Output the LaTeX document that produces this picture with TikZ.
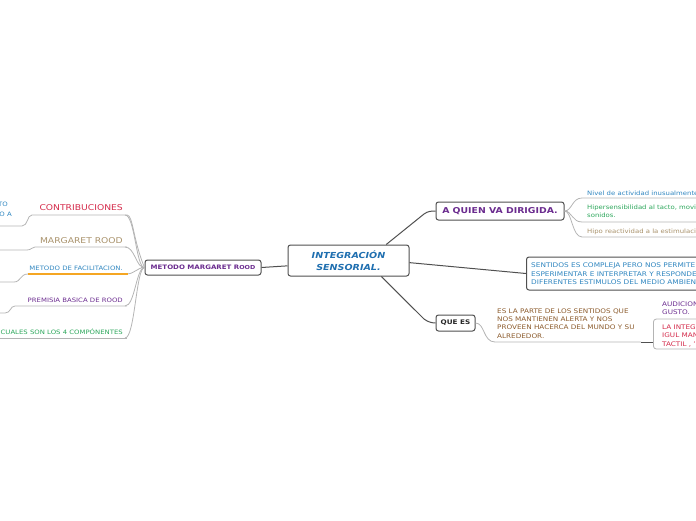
\documentclass[tikz,border=0pt]{standalone}
\usepackage{fontspec}
\setmainfont{DejaVu Sans}[FakeStretch=1.15]
\definecolor{cblue}{HTML}{1F6FB0}
\definecolor{cpurple}{HTML}{6B2C8F}
\definecolor{sblue}{HTML}{2F86C0}
\definecolor{cgreen}{HTML}{2BA65A}
\definecolor{ctan}{HTML}{A8916A}
\definecolor{cred}{HTML}{D42A4A}
\definecolor{cbrown}{HTML}{8B5A2B}
\definecolor{corange}{HTML}{F5A623}
\definecolor{lgray}{HTML}{B4B4B4}
\definecolor{dgray}{HTML}{505050}
\tikzset{
  topic/.style={draw=dgray, line width=1pt, rounded corners=2.5pt, fill=white, inner sep=0pt},
  subbox/.style={draw=lgray, line width=0.8pt, rounded corners=3pt, fill=white, inner sep=0pt},
  small/.style={font=\fontsize{6}{8.5}\selectfont, inner sep=0pt, align=left},
  big/.style={font=\fontsize{8}{10}\selectfont, inner sep=0pt},
  thinline/.style={draw=lgray, line width=0.8pt},
  thickline/.style={draw=dgray, line width=1pt},
}
\begin{document}
\begin{tikzpicture}[x=1pt,y=-1pt]
\useasboundingbox (0,0) rectangle (696,520);
\clip (0,0) rectangle (696,520);

% central topic
\node[topic, minimum width=121pt, minimum height=31pt, align=center, text=cblue,
      font=\bfseries\itshape\fontsize{8.3}{11.5}\selectfont] (c) at (348.5,260.5) {INTEGRACIÓN\\SENSORIAL.};

% main topics
\node[topic, minimum width=116pt, minimum height=15pt, text=cpurple,
      font=\bfseries\fontsize{6.1}{7}\selectfont] (m) at (203,267.5) {METODO MARGARET R{\fontsize{5.5}{6}\selectfont OOD}};
\node[topic, minimum width=128pt, minimum height=18pt, text=cpurple,
      font=\bfseries\fontsize{8.1}{9}\selectfont] (q) at (500,211) {A QUIEN VA DIRIGIDA.};
\node[topic, minimum width=39pt, minimum height=16pt, text=black!85,
      font=\bfseries\fontsize{6.3}{7}\selectfont] (qe) at (455.5,323) {QUE ES};
\node[topic, minimum width=200pt, minimum height=33pt, anchor=west] (s) at (526,273.5) {};
\node[small, text=sblue, anchor=north west, font=\fontsize{6.4}{8.5}\selectfont] (st) at (531,262.8)
  {SENTIDOS ES COMPLEJA PERO NOS PERMITE\\ESPERIMENTAR E INTERPRETAR Y RESPONDER A\\DIFERENTES ESTIMULOS DEL MEDIO AMBIENTE};

% thick connectors
\draw[thickline] (c.185) -- (m.east);
\draw[thickline] (c.23) -- (424,214) .. controls (428,211) and (432,211) .. (q.west);
\draw[thickline] (c.-2) -- (s.west);
\draw[thickline] (c.-26) -- (424,319) .. controls (428,322) and (432,323) .. (qe.west);

% right: A QUIEN VA DIRIGIDA children
\coordinate (r1) at (700,198);
\coordinate (r2) at (700,222);
\coordinate (r3) at (700,237);
\draw[thinline] (q.east) .. controls (572,211) and (572,198) .. (582,198) -- (r1);
\draw[thinline] (q.east) .. controls (572,211) and (572,222) .. (582,222) -- (r2);
\draw[thinline] (q.east) .. controls (572,211) and (572,237) .. (582,237) -- (r3);
\node[small, text=sblue, anchor=base west] (n1) at (587,195) {Nivel de actividad inusualmente};
\node[small, text=cgreen, anchor=base west] (n2) at (587,209) {Hipersensibilidad al tacto, movimientos,};
\node[small, text=cgreen, anchor=base west] (n2b) at (587,217.3) {sonidos.};
\node[small, text=ctan, anchor=base west] (n3) at (587,233.3) {Hipo reactividad a la estimulación};

% QUE ES children
\node[small, text=cbrown, anchor=north west, font=\fontsize{6.3}{8.4}\selectfont] (qt) at (497,308.2)
  {ES LA PARTE DE LOS SENTIDOS QUE\\NOS MANTIENEN ALERTA Y NOS\\PROVEEN HACERCA DEL MUNDO Y SU\\ALREDEDOR.};
\node[subbox, minimum width=100pt, minimum height=30pt, anchor=west] (li) at (653,334) {};
\node[small, text=cred, anchor=north west, font=\fontsize{6.3}{8.5}\selectfont] (lit) at (662,324.2)
  {LA INTEGRACION\\IGUL MANERA\\TACTIL , '};
\node[small, text=cpurple, anchor=north west, font=\fontsize{6.3}{8.4}\selectfont] (au) at (662,301.6) {AUDICION\\GUSTO.};
\coordinate (qj) at (641,342);
\draw[thinline] (qe.east) .. controls (485,323) and (483,342) .. (495,342) -- (qj);
\draw[thickline] (qj) -- (li.west |- qj);

% left: METODO MARGARET ROOD children
\coordinate (l1) at (127,215);
\coordinate (l2) at (127,247);
\coordinate (l3) at (128,274);
\coordinate (l4) at (127,306);
\coordinate (l5) at (127,338);
\foreach \p in {l1,l2,l3,l4,l5}{
  \draw[thinline] (m.west) .. controls (136,268) and (135,0|-\p) .. ([xshift=-2pt]\p) ;
  \draw[thinline] (m.west) -- ++(-4,0);
}
\draw[thinline] (l1) .. controls (133,215) and (133,240) .. (m.west);
\draw[thinline] (l1) -- (32,215) .. controls (27,215) and (28,226) .. (22,226) -- (-5,226);
\draw[thinline] (l2) -- (35,247) .. controls (31,247) and (32,250) .. (27,250) -- (-5,250);
\draw[draw=corange, line width=1.6pt] (l3) -- (28,274);
\draw[thinline] (28,274) .. controls (20,274) and (21,282) .. (14,282) -- (-5,282);
\draw[thinline] (l4) -- (15,306) .. controls (10,306) and (11,313) .. (5,313) -- (-5,313);
\draw[thinline] (l5) -- (-5,338);

\node[big, text=cred, anchor=base east] (t1) at (123,210.7) {CONTRIBUCIONES};
\node[big, text=ctan, anchor=base east] (t2) at (123,243) {MARGARET ROOD};
\node[small, text=sblue, anchor=base east] (t3) at (123,270) {METODO DE FACILITACION.};
\node[small, text=cpurple, anchor=base east] (t4) at (123,302) {PREMISIA BASICA DE ROOD};
\node[small, text=cgreen, anchor=base east] (t5) at (123,334) {CUALES SON LOS 4 COMPÓNENTES};
\node[small, text=sblue, anchor=base east] (g1) at (8,206) {TO};
\node[small, text=sblue, anchor=base east] (g2) at (12,216) {O A};
\end{tikzpicture}
\end{document}
